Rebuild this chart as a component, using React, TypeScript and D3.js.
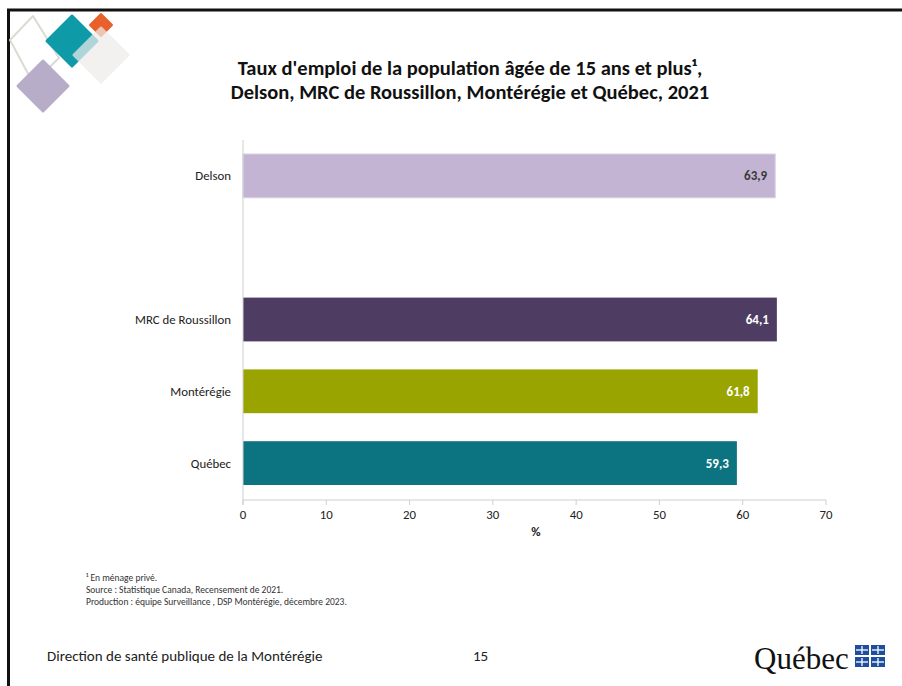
import React from "react";
import * as d3 from "d3";

const categories = ["Delson", "", "MRC de Roussillon", "Montérégie", "Québec"];
const values = [63.9, null, 64.1, 61.8, 59.3];
const barColors = ["#C3B4D4", "none", "#4E3C63", "#99A400", "#0B7480"];
const labelColors = ["#3a3a3a", "", "#ffffff", "#ffffff", "#ffffff"];
const ticks = [0, 10, 20, 30, 40, 50, 60, 70];
const titleLines = [
  "Taux d'emploi de la population âgée de 15 ans et plus¹,",
  "Delson, MRC de Roussillon, Montérégie et Québec, 2021",
];
const footnotes = [
  "¹ En ménage privé.",
  "Source : Statistique Canada, Recensement de 2021.",
  "Production : équipe Surveillance , DSP Montérégie, décembre 2023.",
];

const font = "Carlito, Calibri, 'Open Sans', 'Liberation Sans', sans-serif";

export default function App() {
  const W = 902, H = 686;
  const x = d3.scaleLinear().domain([0, 70]).range([243, 826]);
  const y = d3.scaleBand().domain(categories.map((c, i) => String(i))).range([140, 499]).paddingInner(0.39).paddingOuter(0.195);
  const fmt = (v: number) => v.toFixed(1).replace(".", ",");
  const diamond = (cx: number, cy: number, r: number) => `M${cx},${cy - r}L${cx + r},${cy}L${cx},${cy + r}L${cx - r},${cy}Z`;
  return (
    <svg width={W} height={H} style={{ position: "absolute", left: 0, top: 0, background: "#fff" }} fontFamily={font}>
      <rect x={0} y={0} width={W} height={H} fill="#fff" />
      {/* frame */}
      <line x1={8.5} y1={9} x2={8.5} y2={H} stroke="#111" strokeWidth={3} />
      <line x1={7} y1={10} x2={W} y2={10} stroke="#111" strokeWidth={3} />
      {/* decorative logo */}
      <g strokeLinejoin="round">
        <path d="M33,16L10,40L33,83L59,58Z" fill="none" stroke="#d8ddd4" strokeWidth={2} />
        <path d={diamond(43, 86, 25)} fill="#B7ADC8" stroke="#B7ADC8" strokeWidth={3} />
        <path d={diamond(101, 25, 11)} fill="#E8602A" stroke="#E8602A" strokeWidth={2} />
        <path d={diamond(72, 41, 25)} fill="#0E9AA7" stroke="#0E9AA7" strokeWidth={3} />
        <path d={diamond(101, 55, 27)} fill="#EEECEB" opacity={0.72} stroke="#EEECEB" strokeWidth={3} />
      </g>
      {/* title */}
      {titleLines.map((t, i) => (
        <text key={i} x={470} y={75 + i * 24} textAnchor="middle" fontWeight="bold" fontSize={20.5} fill="#111">{t}</text>
      ))}
      {/* bars */}
      {categories.map((c, i) => {
        const v = values[i];
        const yy = y(String(i))!;
        const bw = y.bandwidth();
        return (
          <g key={i}>
            {c && <text x={231} y={yy + bw / 2 + 4.5} textAnchor="end" fontSize={12.8} fill="#222">{c}</text>}
            {v != null && (
              <>
                <rect x={x(0)} y={yy} width={x(v) - x(0)} height={bw} fill={barColors[i]} stroke={i === 0 ? "#d9cfe4" : "none"} strokeWidth={1} />
                <text x={x(v) - 8} y={yy + bw / 2 + 4.5} textAnchor="end" fontSize={13} fontWeight="bold" fill={labelColors[i]}>{fmt(v)}</text>
              </>
            )}
          </g>
        );
      })}
      {/* axes */}
      <line x1={x(0)} y1={140} x2={x(0)} y2={505} stroke="#cfcfcf" strokeWidth={1} />
      <line x1={x(0)} y1={500} x2={x(70)} y2={500} stroke="#cfcfcf" strokeWidth={1} />
      {ticks.map((t) => (
        <g key={t}>
          <line x1={x(t)} y1={500} x2={x(t)} y2={505} stroke="#cfcfcf" />
          <text x={x(t)} y={519} textAnchor="middle" fontSize={12.8} fill="#222">{t}</text>
        </g>
      ))}
      <text x={536} y={536} textAnchor="middle" fontSize={12.8} fontWeight="bold" fill="#222">%</text>
      {/* footnotes */}
      {footnotes.map((f, i) => (
        <text key={i} x={86} y={581 + i * 12} fontSize={9.5} fill="#333">{f}</text>
      ))}
      {/* footer */}
      <text x={47} y={661} fontSize={15} fill="#222">Direction de santé publique de la Montérégie</text>
      <text x={473} y={661} fontSize={15} fill="#222">15</text>
      <text x={754} y={669} fontSize={31} fontFamily="'Liberation Serif', 'DejaVu Serif', serif" fill="#111">Québec</text>
      {[0, 1].map((r) => [0, 1].map((c) => (
        <g key={`${r}${c}`}>
          <rect x={855 + c * 16} y={645 + r * 12} width={14} height={10} fill="#1F4E9E" />
          <line x1={862 + c * 16} y1={646 + r * 12} x2={862 + c * 16} y2={654 + r * 12} stroke="#fff" strokeWidth={1.3} />
          <line x1={856 + c * 16} y1={650 + r * 12} x2={868 + c * 16} y2={650 + r * 12} stroke="#fff" strokeWidth={1.3} />
        </g>
      )))}
    </svg>
  );
}
